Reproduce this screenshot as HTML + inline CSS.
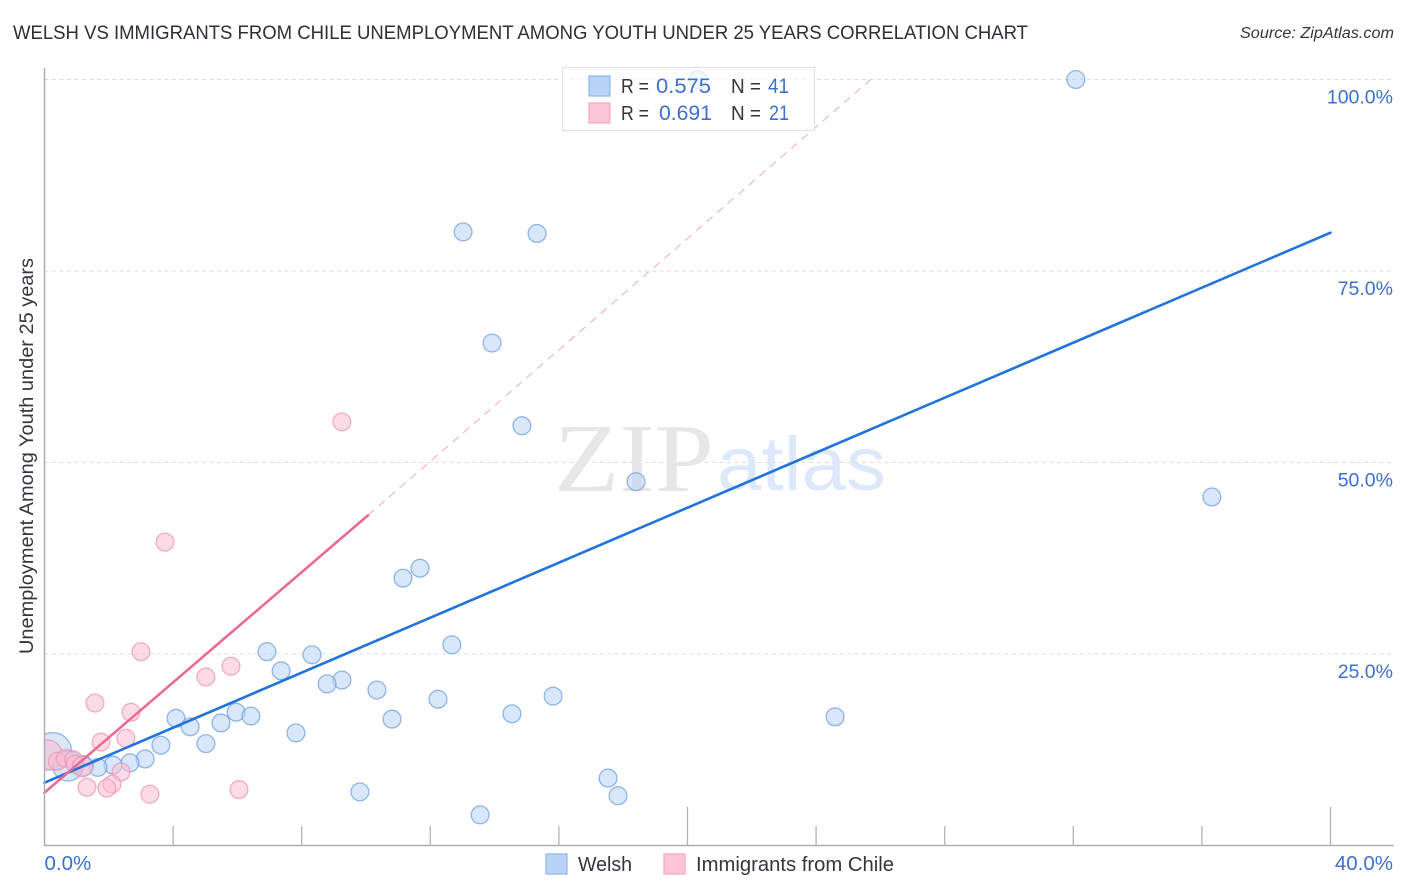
<!DOCTYPE html>
<html lang="en">
<head>
<meta charset="utf-8">
<title>Welsh vs Immigrants from Chile Unemployment Correlation Chart</title>
<style>
html,body{margin:0;padding:0;background:#fff;}
body{width:1406px;height:892px;overflow:hidden;font-family:"Liberation Sans",sans-serif;}
svg{display:block;}
text{font-family:"Liberation Sans",sans-serif;}
</style>
</head>
<body>
<svg id="chart" width="1406" height="892" viewBox="0 0 1406 892" xmlns="http://www.w3.org/2000/svg">
  <defs>
    <clipPath id="plot-clip"><rect x="44.5" y="60" width="1349" height="785.5"></rect></clipPath>
  </defs>
  <rect x="0" y="0" width="1406" height="892" fill="#ffffff"></rect>

  <text x="13" y="39" font-size="19.5" fill="#2b2f36" textLength="1015" lengthAdjust="spacingAndGlyphs">WELSH VS IMMIGRANTS FROM CHILE UNEMPLOYMENT AMONG YOUTH UNDER 25 YEARS CORRELATION CHART</text>
  <text x="1394" y="38" font-size="15.5" font-style="italic" fill="#33363b" text-anchor="end" textLength="154" lengthAdjust="spacingAndGlyphs">Source: ZipAtlas.com</text>

  <g id="grid"></g>

  <g>
    <text x="554" y="491" font-size="98" fill="#e7e7e7" style="font-family:'Liberation Serif',serif" textLength="160" lengthAdjust="spacingAndGlyphs">ZIP</text>
    <text x="717" y="490" font-size="76" fill="#dde9fa" textLength="169" lengthAdjust="spacingAndGlyphs">atlas</text>
  </g>

  <g id="trend"></g>
  <g id="points" clip-path="url(#plot-clip)"></g>
  <g id="axes"></g>
  <g id="tick-labels"></g>

  <text transform="translate(33,456) rotate(-90)" font-size="19" fill="#33363b" text-anchor="middle" textLength="396" lengthAdjust="spacingAndGlyphs">Unemployment Among Youth under 25 years</text>

  <g>
    <rect x="562.5" y="67.5" width="252" height="63" fill="#ffffff" fill-opacity="0.72" stroke="#e2e2e2" stroke-width="1.2"></rect>
    <rect x="589" y="76" width="21" height="20" fill="#b9d3f6" stroke="#8fb5ea" stroke-width="1.2"></rect>
    <rect x="589" y="103" width="21" height="20" fill="#fdc5d8" stroke="#f5a9c2" stroke-width="1.2"></rect>
    <text x="621" y="93" font-size="20" fill="#33363b" textLength="28" lengthAdjust="spacingAndGlyphs">R =</text>
    <text x="656" y="93" font-size="21" fill="#3b70cf" textLength="55" lengthAdjust="spacingAndGlyphs">0.575</text>
    <text x="731" y="93" font-size="20" fill="#33363b" textLength="30" lengthAdjust="spacingAndGlyphs">N =</text>
    <text x="768" y="93" font-size="21" fill="#3b70cf" textLength="21" lengthAdjust="spacingAndGlyphs">41</text>
    <text x="621" y="120" font-size="20" fill="#33363b" textLength="28" lengthAdjust="spacingAndGlyphs">R =</text>
    <text x="659" y="120" font-size="21" fill="#3b70cf" textLength="53" lengthAdjust="spacingAndGlyphs">0.691</text>
    <text x="731" y="120" font-size="20" fill="#33363b" textLength="30" lengthAdjust="spacingAndGlyphs">N =</text>
    <text x="769" y="120" font-size="21" fill="#3b70cf" textLength="20" lengthAdjust="spacingAndGlyphs">21</text>
  </g>

  <g>
    <rect x="546" y="854" width="21" height="20" fill="#b9d3f6" stroke="#8fb5ea" stroke-width="1.2"></rect>
    <text x="578" y="871" font-size="20" fill="#33363b" textLength="54" lengthAdjust="spacingAndGlyphs">Welsh</text>
    <rect x="664" y="854" width="21" height="20" fill="#fdc5d8" stroke="#f5a9c2" stroke-width="1.2"></rect>
    <text x="696" y="871" font-size="20" fill="#33363b" textLength="198" lengthAdjust="spacingAndGlyphs">Immigrants from Chile</text>
  </g>
</svg>

<script>
const welshX = [32.08,13.02,15.32,13.92,14.85,18.40,36.31,11.68,11.15,12.67,6.92,8.32,7.36,9.25,8.79,10.34,15.82,12.24,14.54,10.81,24.59,5.96,6.42,4.09,5.49,4.53,7.82,5.02,3.62,3.13,2.66,2.13,1.66,1.20,17.53,9.81,17.84,13.55,20.33,0.26,0.73];
const welshY = [100,80.1,79.9,65.6,54.8,47.5,45.5,36.2,34.9,26.2,25.3,24.9,22.8,21.6,21.1,20.3,19.5,19.1,17.2,16.5,16.8,17.4,16.9,16.6,16.0,15.5,14.7,13.3,13.1,11.3,10.8,10.5,10.2,10.4,8.8,7.0,6.5,4.0,100,12.3,10.4];
const welshWeight = [1,1,1,1,1,1,1,1,1,1,1,1,1,1,1,1,1,1,1,1,1,1,1,1,1,1,1,1,1,1,1,1,1,1.3,1,1,1,1,1,4.4,2.9];
const chileX = [9.25,3.75,3.00,5.02,5.80,1.57,2.69,2.53,1.76,2.38,2.10,1.94,1.32,3.28,6.05,0.08,0.40,0.65,0.90,0.95,1.18];
const chileY = [55.3,39.6,25.3,22.0,23.4,18.6,17.4,14.0,13.5,9.6,8.0,7.5,7.6,6.7,7.3,11.8,11.0,11.4,11.2,10.6,10.3];
const chileWeight = [1,1,1,1,1,1,1,1,1,1,1,1,1,1,1,2.9,1,1,1,1,1.3];
const welshTrendX = [0,40];
const welshTrendY = [8.2,80];
const chileTrendX = [0,10.06];
const chileTrendY = [6.9,43.1];
const chileDashX = [10.06,25.7];
const chileDashY = [43.1,100];
const xTickValues = [0,4,8,12,16,20,24,28,32,36,40];
const xMajorTicks = [0,20,40];
const yGridValues = [25,50,75,100];
const yTickLabels = ["25.0%","50.0%","75.0%","100.0%"];
const xEndValues = [0,40];
const xEndLabels = ["0.0%","40.0%"];

const SVGNS = "http://www.w3.org/2000/svg";
function xScale(v){ return 44.5 + v * 32.15; }
function yScale(v){ return 845.5 - v * 7.66; }
function rScale(w){ return 8.9 * Math.sqrt(w); }
function make(parent, tag, attrs){
  const el = document.createElementNS(SVGNS, tag);
  for (const k in attrs) el.setAttribute(k, attrs[k]);
  parent.appendChild(el);
  return el;
}

const gridG = document.getElementById("grid");
yGridValues.forEach(function(v){
  const line = make(gridG, "line", {x1:44.5, x2:1393, y1:yScale(v), y2:yScale(v), stroke:"#dddddd", "stroke-width":1, "stroke-dasharray":"4 3.5"});
  
  
});

const trendG = document.getElementById("trend");
const dashLine = make(trendG, "line", {x1:xScale(chileDashX[0]), y1:yScale(chileDashY[0]), x2:xScale(chileDashX[1]), y2:yScale(chileDashY[1]), stroke:"#f2b6ca", "stroke-width":1.2, "stroke-dasharray":"8 6"});



const pointsG = document.getElementById("points");
function drawSeries(xs, ys, ws, fill, stroke, label){
  xs.forEach(function(x, i){
    const c = make(pointsG, "circle", {cx:xScale(x), cy:yScale(ys[i]), r:rScale(ws[i]), fill:fill, "fill-opacity":0.55, stroke:stroke, "stroke-opacity":0.75, "stroke-width":1.3});
    
    
  });
}
drawSeries(welshX, welshY, welshWeight, "#b9d3f6", "#6f9fdf", "welsh-point");
drawSeries(chileX, chileY, chileWeight, "#f9bdd1", "#e996b4", "chile-point");

const welshLine = make(trendG, "line", {x1:xScale(welshTrendX[0]), y1:yScale(welshTrendY[0]), x2:xScale(welshTrendX[1]), y2:yScale(welshTrendY[1]), stroke:"#2273da", "stroke-width":2.6, "stroke-linecap":"round"});


const chileLine = make(trendG, "line", {x1:xScale(chileTrendX[0]), y1:yScale(chileTrendY[0]), x2:xScale(chileTrendX[1]), y2:yScale(chileTrendY[1]), stroke:"#ea6a94", "stroke-width":2.6, "stroke-linecap":"round"});


pointsG.parentNode.insertBefore(trendG, pointsG.nextSibling);

const axesG = document.getElementById("axes");
const yAxis = make(axesG, "line", {x1:44.5, x2:44.5, y1:68, y2:846, stroke:"#aaaaaa", "stroke-width":1.4});


const xAxis = make(axesG, "line", {x1:44, x2:1394, y1:845.5, y2:845.5, stroke:"#b0b0b0", "stroke-width":1.4});


xTickValues.forEach(function(v){
  if (v === 0) return;
  const top = xMajorTicks.indexOf(v) >= 0 ? 807 : 826;
  const t = make(axesG, "line", {x1:xScale(v), x2:xScale(v), y1:top, y2:845.5, stroke:"#b4b4b4", "stroke-width":1.3});
  
  
});

const labelG = document.getElementById("tick-labels");
yGridValues.forEach(function(v, i){
  const t = make(labelG, "text", {x:1393, y:yScale(v) + 24, "font-size":19.5, fill:"#3b70cf", "text-anchor":"end"});
  
  
  t.textContent = yTickLabels[i];
});
xEndValues.forEach(function(v, i){
  const t = make(labelG, "text", {x: i === 0 ? xScale(v) : 1393, y:870, "font-size":20.5, fill:"#3b70cf", "text-anchor": i === 0 ? "start" : "end"});
  
  
  t.textContent = xEndLabels[i];
});
</script>
</body>
</html>
